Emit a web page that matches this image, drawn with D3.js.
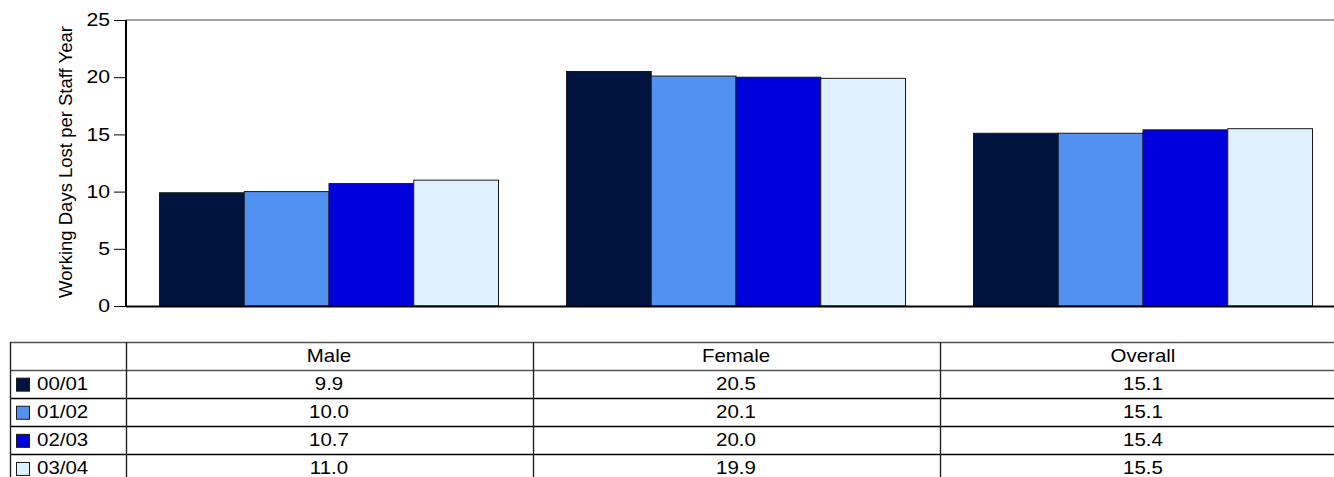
<!doctype html>
<html>
<head>
<script src="https://d3js.org/d3.v7.min.js"></script>
<style>
  body { margin: 0; background: #fff; }
  text { font-family: 'Liberation Sans', Arial, sans-serif; }
</style>
</head>
<body>
<svg id="chart" width="1334" height="477"></svg>
<script>
// data
const categories = ["Male", "Female", "Overall"];
const years = ["00/01", "01/02", "02/03", "03/04"];
const colors = ["#00143f", "#5291ef", "#0000dd", "#dff0ff"];
const values = [
  [9.9, 20.5, 15.1],   // 00/01
  [10.0, 20.1, 15.1],  // 01/02
  [10.7, 20.0, 15.4],  // 02/03
  [11.0, 19.9, 15.5]   // 03/04
];
const yTicks = [0, 5, 10, 15, 20, 25];

// the text in the original is a bit wider than Arial, so stretch it
const sx = 1.17;
const fs = 17.5;

const svg = d3.select("#chart");

const x0 = d3.scaleBand().domain(categories).range([125.5, 1346.5]);
const x1 = d3.scaleBand().domain(years).range([34, x0.bandwidth() - 34]);
const y = d3.scaleLinear().domain([0, 25]).range([306, 20]);

function label(x, yy, txt, anchor) {
  return svg.append("text")
    .attr("transform", "translate(" + x + "," + yy + ") scale(" + sx + ",1)")
    .attr("text-anchor", anchor || "start")
    .attr("font-size", fs)
    .text(txt);
}

// top frame line
svg.append("line")
  .attr("x1", 126).attr("x2", 1334)
  .attr("y1", y(25)).attr("y2", y(25))
  .attr("stroke", "#808080").attr("stroke-width", 1.5);

// bars
years.forEach((yr, i) => {
  svg.append("g").selectAll("rect")
    .data(categories)
    .enter().append("rect")
    .attr("x", c => x0(c) + x1(yr))
    .attr("width", x1.bandwidth())
    .attr("y", (c, j) => y(values[i][j]))
    .attr("height", (c, j) => y(0) - y(values[i][j]))
    .attr("fill", colors[i])
    .attr("stroke", "#1a1a1a")
    .attr("stroke-width", 1);
});

// baseline
svg.append("line")
  .attr("x1", 126).attr("x2", 1334)
  .attr("y1", y(0) + 0.5).attr("y2", y(0) + 0.5)
  .attr("stroke", "#000").attr("stroke-width", 2);

// y axis
const yAxis = d3.axisLeft(y).tickValues(yTicks).tickSize(12).tickPadding(4);
const ya = svg.append("g").attr("transform", "translate(126,0)").call(yAxis);
ya.select(".domain").attr("stroke", "#000").attr("stroke-width", 2)
  .attr("d", "M0," + y(25) + "V" + (y(0) + 1));
ya.selectAll(".tick line").attr("stroke", "#000");
ya.selectAll(".tick text")
  .attr("x", null)
  .attr("transform", "translate(-16,0) scale(1.18,1)")
  .attr("font-size", 18).attr("fill", "#000")
  .style("font-family", "'Liberation Sans', Arial, sans-serif");

svg.append("text")
  .attr("transform", "translate(72,162) rotate(-90)")
  .attr("text-anchor", "middle")
  .attr("font-size", 18.5)
  .text("Working Days Lost per Staff Year");

// data table
const tTop = 342, rowH = 28.1;
const rowY = d3.range(6).map(i => tTop + i * rowH);
const colX = [10, x0("Male"), x0("Female"), x0("Overall")];

svg.selectAll("line.hrow")
  .data(rowY.slice(0, 5))
  .enter().append("line")
  .attr("class", "hrow")
  .attr("x1", 10).attr("x2", 1334)
  .attr("y1", d => Math.round(d) + 0.5).attr("y2", d => Math.round(d) + 0.5)
  .attr("stroke", (d, i) => i < 2 ? "#555" : "#000")
  .attr("stroke-width", (d, i) => i < 2 ? 1.6 : 1.3);

svg.selectAll("line.vcol")
  .data(colX)
  .enter().append("line")
  .attr("class", "vcol")
  .attr("x1", d => Math.round(d) + 0.5).attr("x2", d => Math.round(d) + 0.5)
  .attr("y1", tTop).attr("y2", 477)
  .attr("stroke", "#222").attr("stroke-width", 1.4);

// header
categories.forEach(c => {
  label(x0(c) + x0.bandwidth() / 2, tTop + rowH / 2 + 6, c, "middle");
});

// rows
years.forEach((yr, i) => {
  const ry = rowY[i + 1];
  svg.append("rect")
    .attr("x", 16.5).attr("y", ry + rowH / 2 - 6)
    .attr("width", 13).attr("height", 13)
    .attr("fill", colors[i])
    .attr("stroke", "#1a1a1a").attr("stroke-width", 1);
  label(37, ry + rowH / 2 + 6, yr, "start");
  categories.forEach((c, j) => {
    label(x0(c) + x0.bandwidth() / 2, ry + rowH / 2 + 6, values[i][j].toFixed(1), "middle");
  });
});
</script>
</body>
</html>
